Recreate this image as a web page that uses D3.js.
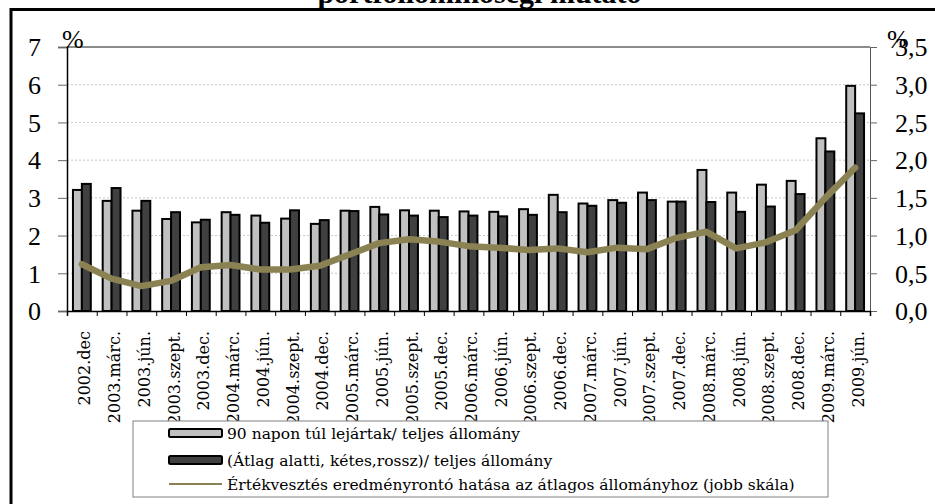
<!DOCTYPE html>
<html><head><meta charset="utf-8">
<script src="https://cdn.jsdelivr.net/npm/d3@7"></script>
<style>html,body{margin:0;padding:0;background:#fff;}svg{display:block;}</style>
</head><body>
<script>
const categories = ["2002.dec","2003.márc.","2003.jún.","2003.szept.","2003.dec.","2004.márc.","2004.jún.","2004.szept.","2004.dec.","2005.márc.","2005.jún.","2005.szept.","2005.dec.","2006.márc.","2006.jún.","2006.szept.","2006.dec.","2007.márc.","2007.jún.","2007.szept.","2007.dec.","2008.márc.","2008.jún.","2008.szept.","2008.dec.","2009.márc.","2009.jún."];
const overdue90 = [3.21,2.92,2.66,2.44,2.35,2.62,2.53,2.45,2.31,2.66,2.76,2.67,2.66,2.64,2.63,2.70,3.08,2.85,2.94,3.14,2.90,3.74,3.14,3.35,3.45,4.58,5.97];
const substandard = [3.37,3.26,2.92,2.62,2.42,2.55,2.34,2.67,2.41,2.65,2.56,2.53,2.49,2.53,2.51,2.55,2.62,2.79,2.87,2.94,2.90,2.89,2.63,2.77,3.10,4.23,5.24];
const impairment = [0.62,0.43,0.33,0.40,0.58,0.61,0.55,0.55,0.60,0.75,0.90,0.95,0.92,0.86,0.84,0.81,0.83,0.78,0.84,0.82,0.97,1.05,0.83,0.91,1.07,1.50,1.90];
const leftTicks = [0,1,2,3,4,5,6,7];
const rightTicks = [0,0.5,1,1.5,2,2.5,3,3.5];
const seriesNames = ["90 napon túl lejártak/ teljes állomány","(Átlag alatti, kétes,rossz)/ teljes állomány","Értékvesztés eredményrontó hatása az átlagos állományhoz (jobb skála)"];
const titleText = "portfolióminőségi mutató";

const W = 935, H = 504;
const X0 = 67, X1 = 870, Y0 = 47, Y1 = 311;
const lightFill = "#c0c0c0", darkFill = "#404040", lineColor = "#8b8254";
const serif = "'Liberation Serif','Times New Roman',serif";
const labelFont = "'DejaVu Serif',serif";

const svg = d3.select("body").append("svg").attr("width", W).attr("height", H);

const x = d3.scaleBand().domain(categories).range([X0, X1]).padding(0);
const xs = d3.scaleBand().domain(["a","b"]).range([x.bandwidth()*0.2, x.bandwidth()*0.8]).padding(0);
const yL = d3.scaleLinear().domain([0,7]).range([Y1, Y0]);
const yR = d3.scaleLinear().domain([0,3.5]).range([Y1, Y0]);

// outer frame
svg.append("rect").attr("x", 11).attr("y", 9.5).attr("width", 940).attr("height", 520)
  .attr("fill", "none").attr("stroke", "#000").attr("stroke-width", 3);

// title (cut at top)
svg.append("text").attr("x", 479.5).attr("y", 3).attr("text-anchor", "middle")
  .attr("font-family", serif).attr("font-weight", "bold").attr("font-size", 30).text(titleText);

// gridlines
svg.append("g").selectAll("line").data(leftTicks.filter(d => d > 0 && d < 7)).join("line")
  .attr("x1", X0).attr("x2", X1).attr("y1", d => yL(d)).attr("y2", d => yL(d))
  .attr("stroke", "#c8c8c8").attr("stroke-width", 1).attr("stroke-dasharray", "2,2");
svg.append("line").attr("x1", X0).attr("x2", X1).attr("y1", yL(7)).attr("y2", yL(7))
  .attr("stroke", "#8c8c8c").attr("stroke-width", 2);

// bars
const g = svg.append("g");
categories.forEach((c, i) => {
  g.append("rect").attr("x", x(c) + xs("a")).attr("width", xs.bandwidth())
    .attr("y", yL(overdue90[i])).attr("height", yL(0) - yL(overdue90[i]))
    .attr("fill", lightFill).attr("stroke", "#000").attr("stroke-width", 2);
  g.append("rect").attr("x", x(c) + xs("b")).attr("width", xs.bandwidth())
    .attr("y", yL(substandard[i])).attr("height", yL(0) - yL(substandard[i]))
    .attr("fill", darkFill).attr("stroke", "#000").attr("stroke-width", 2);
});

// line
const line = d3.line().x((d, i) => x(categories[i]) + x.bandwidth()/2).y(d => yR(d));
svg.append("path").datum(impairment).attr("d", line).attr("fill", "none")
  .attr("stroke", lineColor).attr("stroke-width", 6.5).attr("stroke-linejoin", "round").attr("stroke-linecap", "round");

// left axis
const axL = svg.append("g").attr("transform", `translate(${X0},0)`)
  .call(d3.axisLeft(yL).tickValues(leftTicks).tickSize(9).tickPadding(17).tickFormat(d3.format("d")));
axL.select(".domain").attr("stroke", "#000").attr("stroke-width", 1.5);
axL.selectAll(".tick line").attr("stroke", "#666");
axL.selectAll(".tick text").attr("font-family", serif).attr("font-size", 26).attr("fill", "#000").attr("dy", "0.34em");

// right axis
const axR = svg.append("g").attr("transform", `translate(${X1},0)`)
  .call(d3.axisRight(yR).tickValues(rightTicks).tickSize(7).tickPadding(18).tickFormat(d => d.toFixed(1).replace(".", ",")));
axR.select(".domain").attr("stroke", "#555").attr("stroke-width", 1);
axR.selectAll(".tick line").attr("stroke", "#666");
axR.selectAll(".tick text").attr("font-family", serif).attr("font-size", 26).attr("fill", "#000").attr("dy", "0.34em");

// percent labels
svg.append("text").attr("x", 62).attr("y", 48).attr("font-family", serif).attr("font-size", 26).text("%");
svg.append("text").attr("x", 887).attr("y", 48).attr("font-family", serif).attr("font-size", 26).text("%");

// bottom axis
const xb = d3.scaleLinear().domain([0, categories.length]).range([X0, X1]);
const axB = svg.append("g").attr("transform", `translate(0,${Y1})`)
  .call(d3.axisBottom(xb).tickValues(d3.range(categories.length + 1)).tickSize(5).tickFormat(""));
axB.select(".domain").attr("stroke", "#000").attr("stroke-width", 1.5);
axB.selectAll(".tick line").attr("stroke", "#000");

// x labels
svg.append("g").selectAll("text").data(categories).join("text")
  .attr("transform", d => `translate(${x(d) + x.bandwidth()/2 + 8.5},331) rotate(-90)`)
  .attr("text-anchor", "end").attr("font-family", labelFont).attr("font-size", 16).text(d => d);

// legend
const lg = svg.append("g");
lg.append("rect").attr("x", 133).attr("y", 421).attr("width", 695).attr("height", 76)
  .attr("fill", "#fff").attr("stroke", "#808080").attr("stroke-width", 1);
const rowsY = [433, 460, 484];
lg.append("rect").attr("x", 169).attr("y", rowsY[0]-4).attr("width", 53).attr("height", 8).attr("rx", 1.5)
  .attr("fill", lightFill).attr("stroke", "#000").attr("stroke-width", 2);
lg.append("rect").attr("x", 169).attr("y", rowsY[1]-4).attr("width", 53).attr("height", 8).attr("rx", 1.5)
  .attr("fill", darkFill).attr("stroke", "#000").attr("stroke-width", 2);
lg.append("line").attr("x1", 169).attr("x2", 222).attr("y1", rowsY[2]).attr("y2", rowsY[2])
  .attr("stroke", lineColor).attr("stroke-width", 2);
lg.selectAll("text.lt").data(seriesNames).join("text").attr("class", "lt")
  .attr("x", 227).attr("y", (d, i) => rowsY[i] + 5.5)
  .attr("font-family", labelFont).attr("font-size", 15.5).text(d => d);
</script>
</body></html>
